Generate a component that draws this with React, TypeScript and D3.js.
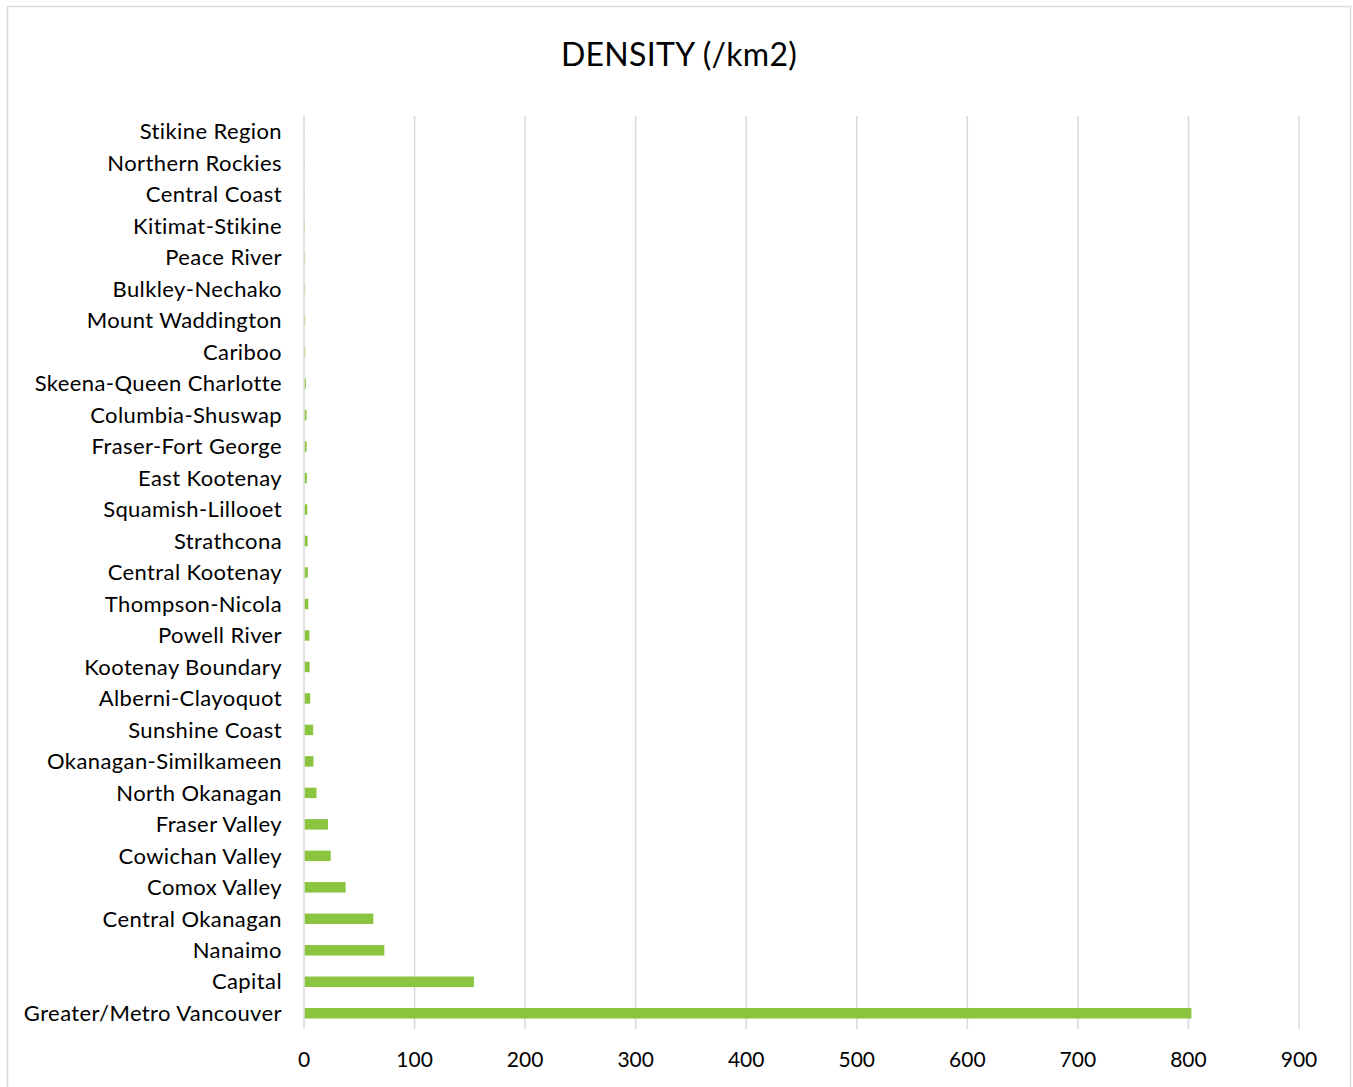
import * as d3 from "d3";
import { useEffect, useRef } from "react";

const regions = [
  "Stikine Region",
  "Northern Rockies",
  "Central Coast",
  "Kitimat-Stikine",
  "Peace River",
  "Bulkley-Nechako",
  "Mount Waddington",
  "Cariboo",
  "Skeena-Queen Charlotte",
  "Columbia-Shuswap",
  "Fraser-Fort George",
  "East Kootenay",
  "Squamish-Lillooet",
  "Strathcona",
  "Central Kootenay",
  "Thompson-Nicola",
  "Powell River",
  "Kootenay Boundary",
  "Alberni-Clayoquot",
  "Sunshine Coast",
  "Okanagan-Similkameen",
  "North Okanagan",
  "Fraser Valley",
  "Cowichan Valley",
  "Comox Valley",
  "Central Okanagan",
  "Nanaimo",
  "Capital",
  "Greater/Metro Vancouver",
];

const density = [
  0.02, 0.05, 0.1, 0.2, 0.3, 0.3, 0.4, 0.5, 1.0, 1.6, 1.7, 1.9, 2.3, 2.6, 2.8,
  3.2, 4.2, 4.4, 4.9, 7.6, 7.9, 10.6, 21, 23.5, 37, 62, 72, 153, 802,
];

const xTicks = [0, 100, 200, 300, 400, 500, 600, 700, 800, 900];

const W = 1353;
const H = 1087;
const FONT = "Lato, 'Open Sans', sans-serif";

const App = () => {
  const ref = useRef<SVGSVGElement>(null);

  useEffect(() => {
    const svg = d3.select(ref.current);
    svg.selectAll("*").remove();

    const margin = { left: 304, right: 54, top: 116, bottom: 58 };

    const x = d3.scaleLinear().domain([0, 900]).range([margin.left, 1299]);
    const y = d3
      .scaleBand()
      .domain(regions)
      .range([margin.top, H - margin.bottom])
      .paddingInner(2 / 3)
      .paddingOuter(1 / 3);

    // cadre
    svg
      .append("rect")
      .attr("x", 7.5)
      .attr("y", 6.5)
      .attr("width", 1343)
      .attr("height", 1090)
      .attr("fill", "#fff")
      .attr("stroke", "#d9d9d9")
      .attr("stroke-width", 1.5);

    // titre
    svg
      .append("text")
      .attr("x", 679)
      .attr("y", 66)
      .attr("text-anchor", "middle")
      .style("font-family", FONT)
      .style("font-size", "32px")
      .style("letter-spacing", "0.3px")
      .attr("fill", "#000")
      .text("DENSITY (/km2)");

    // grille
    svg
      .append("g")
      .selectAll("line")
      .data(xTicks)
      .enter()
      .append("line")
      .attr("x1", (d) => x(d))
      .attr("x2", (d) => x(d))
      .attr("y1", margin.top)
      .attr("y2", H - margin.bottom)
      .attr("stroke", "#d9d9d9")
      .attr("stroke-width", 1.5);

    // étiquettes axe x
    svg
      .append("g")
      .selectAll("text")
      .data(xTicks)
      .enter()
      .append("text")
      .attr("x", (d) => x(d))
      .attr("y", 1067)
      .attr("text-anchor", "middle")
      .style("font-family", FONT)
      .style("font-size", "21px")
      .attr("fill", "#000")
      .text((d) => d);

    // barres
    const rows = regions.map((r, i) => ({ r, v: density[i] }));
    svg
      .append("g")
      .selectAll("rect")
      .data(rows)
      .enter()
      .append("rect")
      .attr("x", x(0) + 0.75)
      .attr("y", (d) => y(d.r)!)
      .attr("width", (d) => Math.max(0, x(d.v) - x(0)))
      .attr("height", y.bandwidth())
      .attr("fill", "#8bc53f");

    // étiquettes catégories
    svg
      .append("g")
      .selectAll("text")
      .data(regions)
      .enter()
      .append("text")
      .attr("x", 282)
      .attr("y", (d) => y(d)! + y.bandwidth() / 2)
      .attr("dy", "0.35em")
      .attr("text-anchor", "end")
      .style("font-family", FONT)
      .style("font-size", "22px")
      .style("letter-spacing", "0.4px")
      .attr("fill", "#000")
      .text((d) => d);
  }, []);

  return (
    <div style={{ position: "absolute", left: 0, top: 0 }}>
      <svg ref={ref} width={W} height={H} style={{ display: "block" }}></svg>
    </div>
  );
};

export default App;
